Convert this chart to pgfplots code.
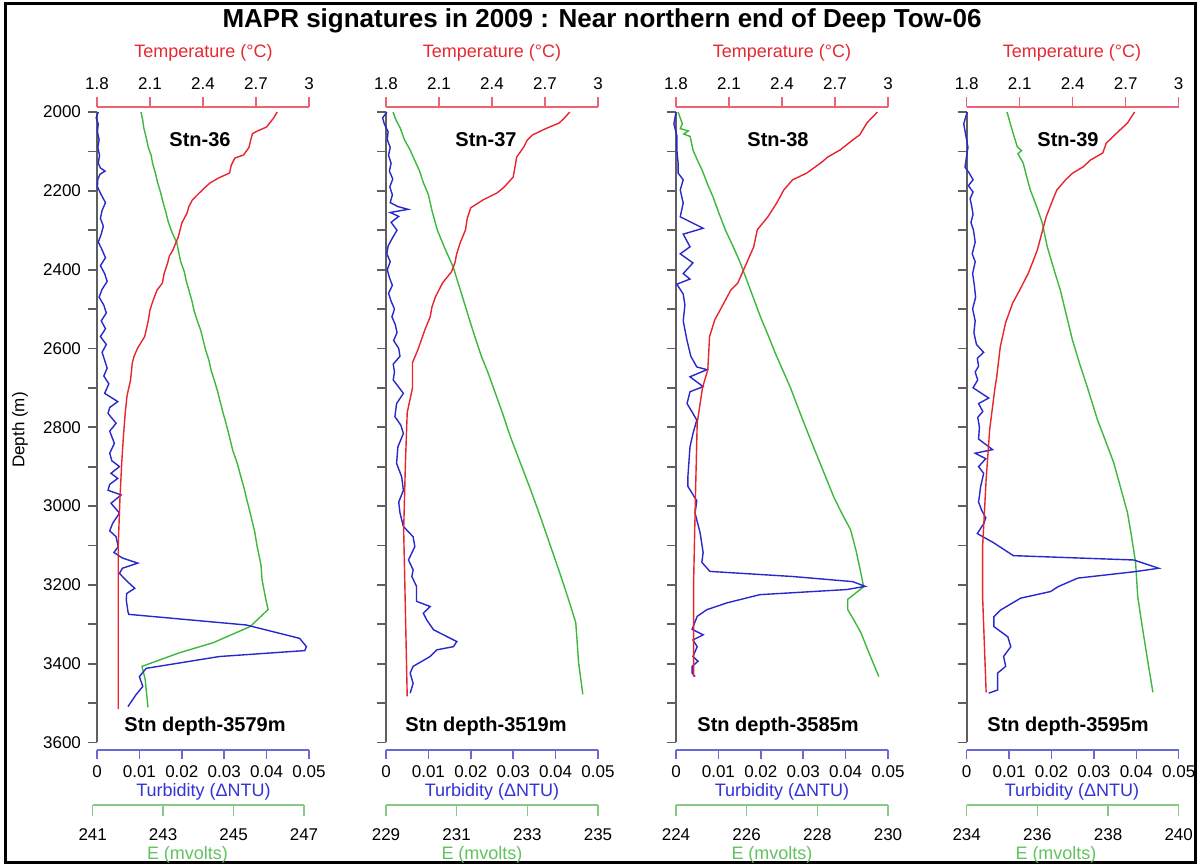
\documentclass[border=0pt]{standalone}
\usepackage{fontspec}
\setmainfont{Liberation Sans}
\usepackage{pgfplots}
\pgfplotsset{compat=1.18}

\definecolor{tline}{RGB}{232,36,44}
\definecolor{bline}{RGB}{40,40,205}
\definecolor{gline}{RGB}{60,185,60}
\definecolor{taxis}{RGB}{236,100,115}
\definecolor{baxis}{RGB}{105,105,215}
\definecolor{gaxis}{RGB}{135,200,135}
\definecolor{tlab}{RGB}{230,40,50}
\definecolor{blab}{RGB}{50,50,215}
\definecolor{glab}{RGB}{95,195,95}
\definecolor{daxis}{RGB}{95,95,95}

\pgfplotsset{
  base/.style={scale only axis, width=106pt, y dir=reverse, clip=false,
    axis y line=none, tick align=outside, major tick length=5pt,
    scaled x ticks=false,
    ticklabel style={font=\fontsize{8.5}{10}\selectfont}},
  tempax/.style={base, height=321.5pt, ymin=1987.3, ymax=3619.3,
    xmin=1.8, xmax=3, axis x line*=top,
    xtick={1.8,2.1,2.4,2.7,3}, xticklabels={1.8,2.1,2.4,2.7,3},
    x axis line style={taxis, line width=0.75pt},
    xtick style={taxis, line width=0.75pt}},
  turbax/.style={base, height=321.5pt, ymin=1987.3, ymax=3619.3,
    xmin=0, xmax=0.05, axis x line*=bottom, major tick length=4.5pt,
    xtick={0,0.01,0.02,0.03,0.04,0.05},
    xticklabels={0,0.01,0.02,0.03,0.04,0.05},
    x axis line style={baxis, line width=0.75pt},
    xtick style={baxis, line width=0.75pt}},
  eax/.style={base, height=349pt, ymin=1987.3, ymax=3758.9,
    axis x line*=bottom, major tick length=5.5pt,
    xticklabel style={yshift=-3pt},
    x axis line style={gaxis, line width=0.75pt},
    xtick style={gaxis, line width=0.75pt}},
  depthax/.style={scale only axis, width=106pt, height=315.2pt,
    ymin=2000, ymax=3600, xmin=0, xmax=1, y dir=reverse,
    axis x line=none, axis y line*=left, tick align=outside,
    major tick length=4.5pt, minor tick length=4.5pt,
    ytick={2000,2200,2400,2600,2800,3000,3200,3400,3600},
    minor ytick={2100,2300,2500,2700,2900,3100,3300,3500},
    y axis line style={daxis, line width=0.9pt},
    ytick style={daxis, line width=0.9pt},
    minor tick style={daxis, line width=0.9pt},
    ticklabel style={font=\fontsize{8.5}{10}\selectfont}},
  tcurve/.style={tline, line width=0.7pt, mark=none},
  bcurve/.style={bline, line width=0.7pt, mark=none},
  gcurve/.style={gline, line width=0.7pt, mark=none},
}

\begin{document}
\begin{tikzpicture}
\useasboundingbox (0,0) rectangle (600pt,433.5pt);
\draw[black, line width=1.5pt] (2.5pt,2pt) rectangle (597.5pt,431.5pt);

\node[font=\fontsize{13}{15}\bfseries\selectfont] at (301pt,423pt)
  {MAPR signatures in 2009 : Near northern end of Deep Tow-06};
\node[rotate=90, font=\fontsize{8.5}{10}\selectfont] at (10pt,218.5pt) {Depth (m)};

% ---------------- Stn-36 ----------------
\begin{axis}[depthax, at={(48.5pt,62.3pt)}, anchor=south west,
  yticklabels={2000,2200,2400,2600,2800,3000,3200,3400,3600}]
\end{axis}
\begin{axis}[eax, at={(46.35pt,31pt)}, anchor=south west, width=105.65pt,
  xmin=241, xmax=247, xtick={241,243,245,247}, xticklabels={241,243,245,247}]
\addplot[gcurve] coordinates {
(242.37,2000)(242.42,2020)(242.45,2040)(242.52,2065)(242.58,2090)(242.66,2110)
(242.70,2130)(242.78,2155)(242.83,2175)(242.93,2205)(243.00,2230)(243.08,2255)
(243.15,2280)(243.25,2305)(243.39,2332)(243.44,2355)(243.50,2380)(243.60,2405)
(243.66,2430)(243.74,2455)(243.82,2480)(243.88,2505)(243.97,2530)(244.07,2555)
(244.14,2580)(244.21,2605)(244.30,2630)(244.36,2655)(244.45,2680)(244.55,2710)
(244.62,2735)(244.70,2763)(244.80,2795)(244.90,2830)(244.98,2860)(245.10,2890)
(245.19,2920)(245.30,2955)(245.38,2985)(245.47,3017)(245.60,3065)(245.67,3103)
(245.78,3150)(245.81,3187)(245.90,3230)(245.98,3263)(245.47,3306)(244.42,3347)
(243.48,3372)(242.40,3407)(242.49,3440)(242.57,3511)};
\end{axis}
\begin{axis}[turbax, at={(48.5pt,58.5pt)}, anchor=south west]
\addplot[bcurve] coordinates {
(0.0003,2000)(-0.0002,2015)(0.0003,2030)(0.0001,2050)(0.0005,2070)(0.0002,2090)
(0.0006,2110)(0.0003,2130)(0.0008,2142)(0.0019,2150)(0.0007,2158)(0.0002,2170)
(0.0001,2190)(0.0010,2210)(0.0020,2230)(0.0012,2250)(0.0008,2270)(0.0015,2290)
(0.0010,2310)(0.0003,2330)(0.0012,2350)(0.0020,2370)(0.0008,2390)(0.0018,2410)
(0.0024,2430)(0.0012,2450)(0.0005,2470)(0.0016,2490)(0.0022,2510)(0.0010,2530)
(0.0020,2550)(0.0008,2570)(0.0022,2590)(0.0012,2610)(0.0018,2630)(0.0024,2650)
(0.0016,2670)(0.0028,2690)(0.0018,2714)(0.0049,2735)(0.0030,2750)(0.0026,2765)
(0.0045,2790)(0.0030,2810)(0.0041,2841)(0.0030,2866)(0.0035,2885)(0.0053,2900)
(0.0033,2917)(0.0049,2930)(0.0030,2945)(0.0026,2960)(0.0057,2972)(0.0033,2993)
(0.0053,3018)(0.0037,3044)(0.0030,3063)(0.0045,3078)(0.0050,3103)(0.0040,3118)
(0.0060,3132)(0.0096,3145)(0.0060,3158)(0.0053,3171)(0.0070,3190)(0.0089,3209)
(0.0070,3222)(0.0069,3238)(0.0073,3268)(0.0075,3275)(0.0352,3302)(0.0478,3336)
(0.0494,3357)(0.0490,3367)(0.0289,3382)(0.0116,3412)(0.0100,3433)(0.0108,3458)
(0.0092,3479)(0.0073,3509)};
\end{axis}
\begin{axis}[tempax, at={(48.5pt,58.5pt)}, anchor=south west]
\addplot[tcurve] coordinates {
(2.82,2000)(2.80,2015)(2.76,2038)(2.70,2050)(2.68,2055)(2.67,2071)(2.66,2090)
(2.63,2109)(2.58,2117)(2.56,2135)(2.55,2155)(2.49,2167)(2.44,2180)(2.41,2192)
(2.38,2205)(2.34,2223)(2.32,2240)(2.31,2256)(2.28,2282)(2.27,2300)(2.26,2317)
(2.23,2350)(2.21,2365)(2.20,2383)(2.18,2410)(2.17,2434)(2.14,2452)(2.12,2475)
(2.10,2502)(2.09,2530)(2.07,2570)(2.03,2599)(2.01,2620)(2.00,2636)(1.99,2680)
(1.97,2720)(1.96,2763)(1.95,2820)(1.94,2890)(1.93,2980)(1.92,3103)(1.92,3300)
(1.92,3515)};
\end{axis}

% ---------------- Stn-37 ----------------
\begin{axis}[depthax, at={(193pt,62.3pt)}, anchor=south west, yticklabels={}]
\end{axis}
\begin{axis}[eax, at={(193pt,31pt)}, anchor=south west,
  xmin=229, xmax=235, xtick={229,231,233,235}, xticklabels={229,231,233,235}]
\addplot[gcurve] coordinates {
(229.20,2000)(229.28,2020)(229.40,2040)(229.52,2070)(229.68,2096)(229.80,2120)
(229.95,2150)(230.06,2180)(230.20,2210)(230.30,2250)(230.45,2299)(230.66,2345)
(230.90,2393)(231.15,2465)(231.39,2535)(231.55,2580)(231.70,2620)(231.88,2660)
(232.04,2700)(232.30,2765)(232.52,2824)(232.80,2890)(233.09,2958)(233.38,3030)
(233.66,3103)(233.90,3165)(234.14,3230)(234.37,3296)(234.41,3345)(234.45,3397)
(234.57,3478)};
\end{axis}
\begin{axis}[turbax, at={(193pt,58.5pt)}, anchor=south west]
\addplot[bcurve] coordinates {
(0.0002,2000)(-0.0008,2015)(-0.0004,2030)(0.0005,2050)(0.0003,2070)(0.0010,2090)
(0.0006,2110)(0.0012,2130)(0.0008,2150)(0.0016,2170)(0.0009,2190)(0.0015,2210)
(0.0010,2230)(0.0028,2240)(0.0052,2247)(0.0010,2255)(0.0030,2265)(0.0012,2280)
(0.0026,2300)(0.0015,2320)(0.0005,2340)(0.0002,2360)(0.0010,2380)(0.0003,2400)
(0.0008,2420)(0.0015,2440)(0.0006,2460)(0.0012,2480)(0.0020,2500)(0.0014,2520)
(0.0022,2540)(0.0026,2560)(0.0018,2580)(0.0030,2600)(0.0033,2620)(0.0017,2640)
(0.0020,2660)(0.0017,2680)(0.0041,2714)(0.0025,2740)(0.0021,2773)(0.0035,2795)
(0.0041,2816)(0.0028,2850)(0.0025,2892)(0.0037,2926)(0.0041,2960)(0.0030,2990)
(0.0033,3018)(0.0041,3052)(0.0064,3078)(0.0068,3103)(0.0053,3137)(0.0064,3162)
(0.0061,3179)(0.0072,3204)(0.0072,3242)(0.0104,3255)(0.0088,3272)(0.0096,3289)
(0.0112,3314)(0.0143,3331)(0.0167,3344)(0.0159,3357)(0.0120,3365)(0.0104,3382)
(0.0064,3407)(0.0057,3424)(0.0064,3450)(0.0057,3475)};
\end{axis}
\begin{axis}[tempax, at={(193pt,58.5pt)}, anchor=south west]
\addplot[tcurve] coordinates {
(2.84,2000)(2.81,2015)(2.78,2028)(2.71,2041)(2.63,2058)(2.60,2071)(2.58,2089)
(2.54,2114)(2.53,2140)(2.52,2165)(2.47,2190)(2.43,2205)(2.35,2223)(2.28,2243)
(2.26,2270)(2.25,2299)(2.22,2332)(2.20,2360)(2.19,2383)(2.17,2406)(2.12,2434)
(2.08,2469)(2.06,2495)(2.05,2520)(2.02,2553)(1.98,2604)(1.95,2636)(1.95,2700)
(1.92,2763)(1.91,2890)(1.90,3060)(1.91,3270)(1.92,3483)};
\end{axis}

% ---------------- Stn-38 ----------------
\begin{axis}[depthax, at={(338pt,62.3pt)}, anchor=south west, yticklabels={}]
\end{axis}
\begin{axis}[eax, at={(338pt,31pt)}, anchor=south west,
  xmin=224, xmax=230, xtick={224,226,228,230}, xticklabels={224,226,228,230}]
\addplot[gcurve] coordinates {
(224.06,2000)(224.18,2030)(224.12,2042)(224.35,2048)(224.22,2056)(224.40,2062)
(224.48,2096)(224.62,2125)(224.75,2150)(224.90,2185)(225.05,2216)(225.22,2258)
(225.40,2300)(225.62,2342)(225.82,2383)(226.10,2450)(226.39,2520)(226.60,2565)
(226.80,2610)(227.02,2655)(227.24,2700)(227.52,2766)(227.81,2832)(228.14,2905)
(228.46,2976)(228.70,3020)(228.94,3060)(229.10,3115)(229.23,3169)(229.31,3205)
(228.86,3237)(228.86,3263)(229.05,3292)(229.23,3321)(229.48,3377)(229.74,3433)};
\end{axis}
\begin{axis}[turbax, at={(338pt,58.5pt)}, anchor=south west]
\addplot[bcurve] coordinates {
(0.0000,2000)(-0.0005,2030)(0.0002,2060)(0.0002,2096)(0.0005,2130)(0.0005,2155)
(0.0017,2172)(0.0010,2198)(0.0017,2231)(0.0010,2266)(0.0064,2295)(0.0017,2310)
(0.0033,2342)(0.0010,2360)(0.0040,2383)(0.0017,2410)(0.0033,2424)(0.0002,2437)
(0.0017,2462)(0.0021,2490)(0.0017,2530)(0.0026,2580)(0.0035,2620)(0.0049,2647)
(0.0073,2654)(0.0033,2672)(0.0064,2697)(0.0033,2710)(0.0026,2740)(0.0040,2765)
(0.0049,2782)(0.0040,2816)(0.0033,2850)(0.0028,2926)(0.0028,2950)(0.0049,2987)
(0.0045,3018)(0.0057,3069)(0.0064,3118)(0.0061,3143)(0.0080,3166)(0.0276,3179)
(0.0417,3192)(0.0446,3204)(0.0403,3212)(0.0198,3225)(0.0120,3246)(0.0073,3263)
(0.0050,3280)(0.0038,3313)(0.0064,3327)(0.0040,3340)(0.0050,3357)(0.0040,3382)
(0.0052,3394)(0.0038,3407)(0.0038,3424)(0.0045,3433)};
\end{axis}
\begin{axis}[tempax, at={(338pt,58.5pt)}, anchor=south west]
\addplot[tcurve] coordinates {
(2.94,2000)(2.88,2028)(2.84,2058)(2.80,2071)(2.73,2096)(2.66,2114)(2.62,2129)
(2.54,2155)(2.46,2172)(2.41,2198)(2.37,2231)(2.32,2266)(2.26,2299)(2.24,2342)
(2.19,2393)(2.15,2434)(2.11,2452)(2.06,2494)(2.02,2527)(1.99,2570)(1.98,2654)
(1.95,2700)(1.92,2789)(1.91,2976)(1.90,3187)(1.90,3433)};
\end{axis}

% ---------------- Stn-39 ----------------
\begin{axis}[depthax, at={(483.35pt,62.3pt)}, anchor=south west, yticklabels={}]
\end{axis}
\begin{axis}[eax, at={(483.35pt,31pt)}, anchor=south west,
  xmin=234, xmax=240, xtick={234,236,238,240}, xticklabels={234,236,238,240}]
\addplot[gcurve] coordinates {
(235.14,2000)(235.22,2025)(235.30,2050)(235.43,2088)(235.55,2098)(235.45,2106)
(235.60,2130)(235.70,2165)(235.80,2198)(235.98,2240)(236.14,2282)(236.28,2342)
(236.46,2397)(236.65,2452)(236.82,2515)(236.99,2578)(237.20,2640)(237.42,2700)
(237.70,2781)(237.93,2835)(238.16,2890)(238.36,2955)(238.55,3017)(238.67,3080)
(238.78,3144)(238.84,3230)(238.98,3313)(239.13,3397)(239.27,3473)};
\end{axis}
\begin{axis}[turbax, at={(483.35pt,58.5pt)}, anchor=south west]
\addplot[bcurve] coordinates {
(0.0001,2000)(-0.0007,2030)(-0.0002,2060)(0.0003,2090)(0.0000,2110)(-0.0004,2140)
(0.0006,2155)(0.0015,2172)(0.0004,2187)(0.0015,2203)(0.0008,2220)(0.0012,2240)
(0.0015,2260)(0.0010,2280)(0.0016,2300)(0.0020,2330)(0.0013,2360)(0.0020,2380)
(0.0014,2410)(0.0018,2440)(0.0021,2470)(0.0014,2500)(0.0020,2530)(0.0017,2560)
(0.0023,2590)(0.0040,2610)(0.0025,2625)(0.0028,2645)(0.0020,2660)(0.0026,2680)
(0.0015,2700)(0.0052,2726)(0.0028,2740)(0.0038,2760)(0.0026,2775)(0.0030,2800)
(0.0028,2830)(0.0061,2857)(0.0020,2866)(0.0045,2880)(0.0028,2900)(0.0040,2917)
(0.0033,2950)(0.0028,2990)(0.0035,3010)(0.0045,3030)(0.0040,3045)(0.0025,3070)
(0.0063,3093)(0.0110,3126)(0.0394,3137)(0.0453,3158)(0.0394,3167)(0.0262,3183)
(0.0215,3205)(0.0198,3217)(0.0127,3234)(0.0080,3264)(0.0064,3281)(0.0064,3306)
(0.0097,3332)(0.0104,3357)(0.0087,3382)(0.0092,3407)(0.0073,3424)(0.0073,3467)
(0.0052,3475)};
\end{axis}
\begin{axis}[tempax, at={(483.35pt,58.5pt)}, anchor=south west]
\addplot[tcurve] coordinates {
(2.75,2000)(2.71,2028)(2.65,2053)(2.59,2079)(2.57,2104)(2.50,2122)(2.46,2139)
(2.40,2155)(2.36,2172)(2.31,2198)(2.28,2231)(2.25,2266)(2.23,2299)(2.20,2350)
(2.15,2408)(2.10,2452)(2.06,2485)(2.02,2535)(1.99,2596)(1.97,2672)(1.96,2700)
(1.93,2806)(1.91,2933)(1.89,3103)(1.89,3230)(1.91,3473)};
\end{axis}

% ---------------- text ----------------
\begin{scope}[font=\fontsize{9}{11}\selectfont]
\foreach \cx in {101.75,246,391,536}{
  \node[tlab] at (\cx pt,407pt) {Temperature (°C)};
  \node[blab] at (\cx pt,37.5pt) {Turbidity (ΔNTU)};
}
\node[glab] at (93.75pt,6pt) {E (mvolts)};
\node[glab] at (241pt,6pt) {E (mvolts)};
\node[glab] at (386pt,6pt) {E (mvolts)};
\node[glab] at (528pt,6pt) {E (mvolts)};
\end{scope}
\begin{scope}[font=\fontsize{10}{12}\bfseries\selectfont]
\node at (100pt,363.5pt) {Stn-36};
\node at (243pt,363.5pt) {Stn-37};
\node at (389pt,363.5pt) {Stn-38};
\node at (534pt,363.5pt) {Stn-39};
\node at (102.5pt,70.5pt) {Stn depth-3579m};
\node at (243pt,70.5pt) {Stn depth-3519m};
\node at (389pt,70.5pt) {Stn depth-3585m};
\node at (534pt,70.5pt) {Stn depth-3595m};
\end{scope}
\end{tikzpicture}
\end{document}
